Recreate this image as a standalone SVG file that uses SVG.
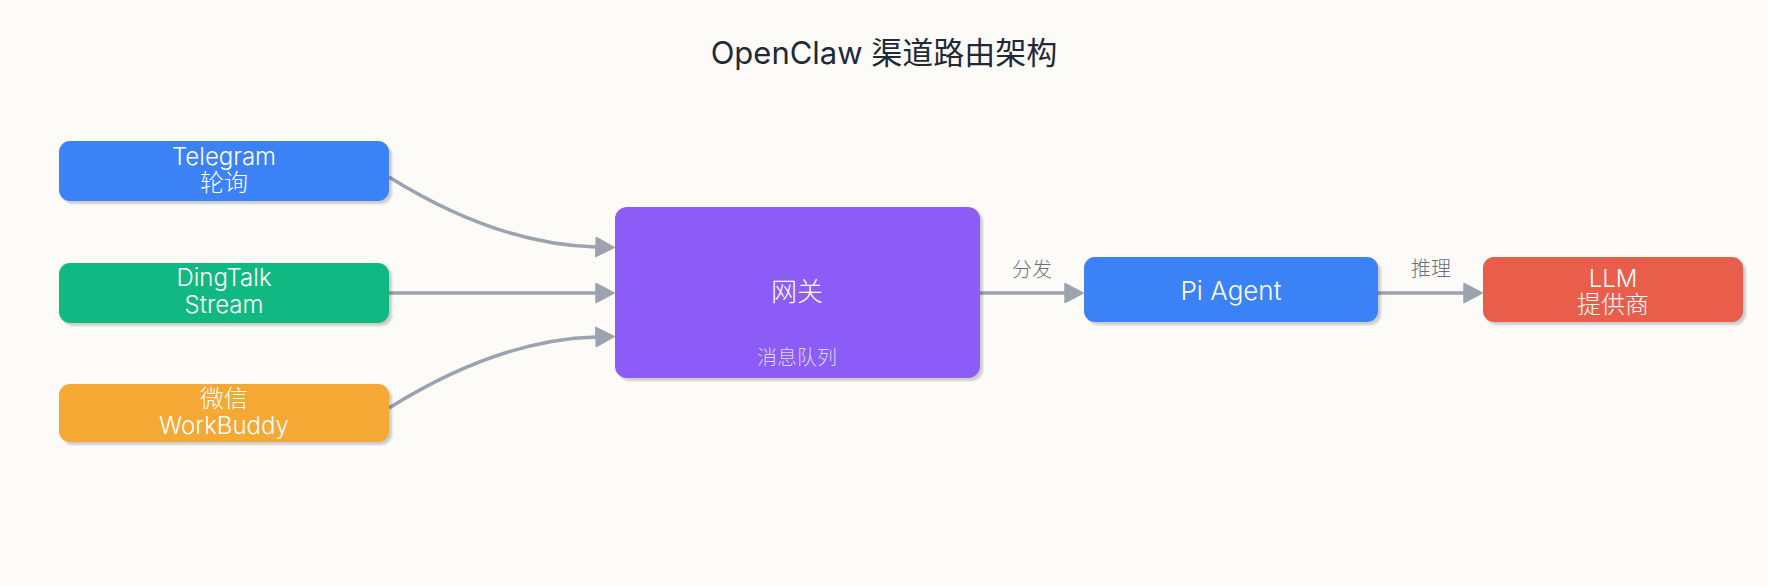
<svg xmlns="http://www.w3.org/2000/svg" width="1768" height="586" viewBox="0 0 1768 586">
  <defs>
    <style>
      text { font-family: "Inter", "Noto Sans CJK SC", sans-serif; }
      .title { font-size: 31px; fill: #1f2937; text-anchor: middle; }
      .node { stroke: none; }
      .shadow { fill: #000000; opacity: 0.18; }
      .lbl { font-size: 24px; font-weight: 300; fill: #ffffff; text-anchor: middle; }
      .big { font-size: 26px; font-weight: 300; fill: #ffffff; text-anchor: middle; }
      .sub { font-size: 20px; font-weight: 300; fill: #ddd6fe; text-anchor: middle; }
      .edge { fill: none; stroke: #9ca3af; stroke-width: 3.5; }
      .elbl { font-size: 20px; font-weight: 300; fill: #6b7280; text-anchor: middle; }
    </style>
    <filter id="blur" x="-10%" y="-10%" width="120%" height="130%">
      <feGaussianBlur stdDeviation="1"/>
    </filter>
    <marker id="arrow" markerUnits="userSpaceOnUse" markerWidth="21" markerHeight="23" refX="1" refY="10.5" orient="auto">
      <path d="M1,1 L19,10.5 L1,20 Z" fill="#9ca3af" stroke="#9ca3af" stroke-width="1.5" stroke-linejoin="round"/>
    </marker>
  </defs>
  <rect x="0" y="0" width="1768" height="586" fill="#fcfbf8"/>
  <text class="title" x="884" y="64">OpenClaw 渠道路由架构</text>

  <g id="connectors">
    <path class="edge" d="M389,177 C450,215 520,245 596,247" marker-end="url(#arrow)"/>
    <path class="edge" d="M389,293 L596,293" marker-end="url(#arrow)"/>
    <path class="edge" d="M389,408 C450,370 520,339 596,337" marker-end="url(#arrow)"/>
    <path class="edge" d="M980,293 L1065,293" marker-end="url(#arrow)"/>
    <text class="elbl" x="1032" y="277">分发</text>
    <path class="edge" d="M1378,293 L1464,293" marker-end="url(#arrow)"/>
    <text class="elbl" x="1431" y="276">推理</text>
  </g>

  <g id="telegram">
    <rect class="shadow" x="62" y="144" width="330" height="60" rx="11" filter="url(#blur)"/>
    <rect class="node" x="59" y="141" width="330" height="60" rx="11" fill="#3b82f6"/>
    <text class="lbl" x="224" y="165">Telegram</text>
    <text class="lbl" x="224" y="191">轮询</text>
  </g>

  <g id="dingtalk">
    <rect class="shadow" x="62" y="266" width="330" height="60" rx="11" filter="url(#blur)"/>
    <rect class="node" x="59" y="263" width="330" height="60" rx="11" fill="#10b981"/>
    <text class="lbl" x="224" y="286">DingTalk</text>
    <text class="lbl" x="224" y="313">Stream</text>
  </g>

  <g id="wechat">
    <rect class="shadow" x="62" y="387" width="330" height="58" rx="11" filter="url(#blur)"/>
    <rect class="node" x="59" y="384" width="330" height="58" rx="11" fill="#f5a834"/>
    <text class="lbl" x="224" y="407">微信</text>
    <text class="lbl" x="224" y="434">WorkBuddy</text>
  </g>

  <g id="gateway">
    <rect class="shadow" x="618" y="210" width="365" height="171" rx="12" filter="url(#blur)"/>
    <rect class="node" x="615" y="207" width="365" height="171" rx="12" fill="#8b5cf6"/>
    <text class="big" x="797" y="301">网关</text>
    <text class="sub" x="797" y="365">消息队列</text>
  </g>

  <g id="piagent">
    <rect class="shadow" x="1087" y="260" width="294" height="65" rx="11" filter="url(#blur)"/>
    <rect class="node" x="1084" y="257" width="294" height="65" rx="11" fill="#3b82f6"/>
    <text class="big" x="1231" y="300">Pi Agent</text>
  </g>

  <g id="llm">
    <rect class="shadow" x="1486" y="260" width="260" height="65" rx="11" filter="url(#blur)"/>
    <rect class="node" x="1483" y="257" width="260" height="65" rx="11" fill="#e85e4b"/>
    <text class="lbl" x="1613" y="287">LLM</text>
    <text class="lbl" x="1613" y="313">提供商</text>
  </g>
</svg>
